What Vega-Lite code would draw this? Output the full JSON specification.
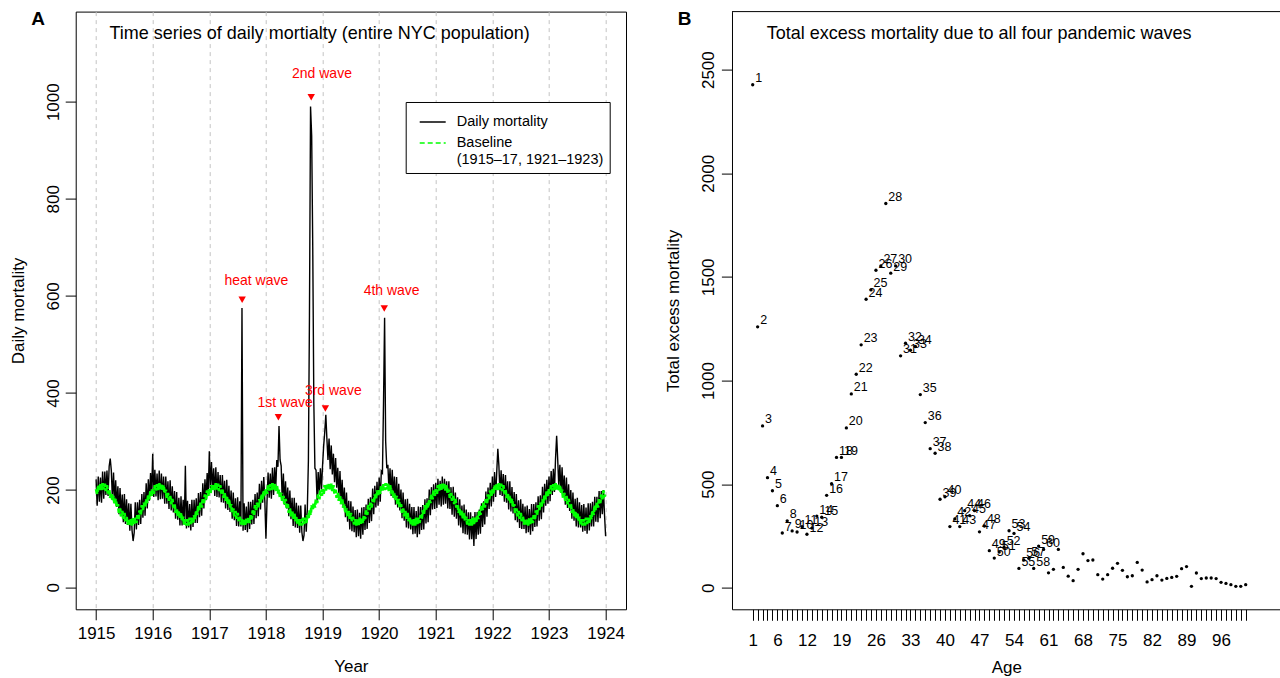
{
  "$schema": "https://vega.github.io/schema/vega-lite/v6.json",
  "autosize": {"type": "none"},
  "padding": {"left": 75.7, "top": 11.6, "right": 1204.3, "bottom": 666.4},
  "background": "white",
  "bounds": "flush",
  "spacing": 105.3,
  "config": {
    "font": "Liberation Sans",
    "view": {"stroke": "black", "strokeWidth": 1},
    "axis": {
      "labelColor": "black", "titleColor": "black", "tickColor": "black", "domainColor": "black",
      "labelFontSize": 17, "titleFontSize": 17, "titleFontWeight": "normal",
      "grid": false, "labelFlush": false, "labelOverlap": false, "tickWidth": 1, "domainWidth": 1
    }
  },
  "datasets": {
    "events": [
      {"event": "heat wave", "year": 1917.58, "value": 592, "labelYear": 1917.83, "labelValue": 630},
      {"event": "1st wave", "year": 1918.22, "value": 350, "labelYear": 1918.34, "labelValue": 379},
      {"event": "2nd wave", "year": 1918.80, "value": 1009, "labelYear": 1918.99, "labelValue": 1057},
      {"event": "3rd wave", "year": 1919.05, "value": 368, "labelYear": 1919.19, "labelValue": 405},
      {"event": "4th wave", "year": 1920.09, "value": 574, "labelYear": 1920.22, "labelValue": 611}
    ],
    "ages": [
      {"age":1,"excess":2427},{"age":2,"excess":1259},{"age":3,"excess":781},{"age":4,"excess":531},{"age":5,"excess":468},
      {"age":6,"excess":396},{"age":7,"excess":264},{"age":8,"excess":323},{"age":9,"excess":274},{"age":10,"excess":269},
      {"age":11,"excess":295},{"age":12,"excess":258},{"age":13,"excess":288},{"age":14,"excess":346},{"age":15,"excess":340},
      {"age":16,"excess":446},{"age":17,"excess":502},{"age":18,"excess":629},{"age":19,"excess":629},{"age":20,"excess":771},
      {"age":21,"excess":935},{"age":22,"excess":1030},{"age":23,"excess":1172},{"age":24,"excess":1392},{"age":25,"excess":1437},
      {"age":26,"excess":1532},{"age":27,"excess":1553},{"age":28,"excess":1854},{"age":29,"excess":1518},{"age":30,"excess":1553},
      {"age":31,"excess":1119},{"age":32,"excess":1180},{"age":33,"excess":1146},{"age":34,"excess":1164},{"age":35,"excess":932},
      {"age":36,"excess":797},{"age":37,"excess":671},{"age":38,"excess":649},{"age":39,"excess":427},{"age":40,"excess":439},
      {"age":41,"excess":295},{"age":42,"excess":332},{"age":43,"excess":295},{"age":44,"excess":372},{"age":45,"excess":348},
      {"age":46,"excess":372},{"age":47,"excess":270},{"age":48,"excess":298},{"age":49,"excess":179},{"age":50,"excess":143},
      {"age":51,"excess":172},{"age":52,"excess":195},{"age":53,"excess":275},{"age":54,"excess":262},{"age":55,"excess":93},
      {"age":56,"excess":134},{"age":57,"excess":142},{"age":58,"excess":93},{"age":59,"excess":201},{"age":60,"excess":185},
      {"age":61,"excess":72},{"age":62,"excess":89},{"age":63,"excess":185},{"age":64,"excess":98},{"age":65,"excess":56},
      {"age":66,"excess":34},{"age":67,"excess":89},{"age":68,"excess":164},{"age":69,"excess":131},{"age":70,"excess":134},
      {"age":71,"excess":63},{"age":72,"excess":42},{"age":73,"excess":63},{"age":74,"excess":94},{"age":75,"excess":118},
      {"age":76,"excess":84},{"age":77,"excess":53},{"age":78,"excess":58},{"age":79,"excess":122},{"age":80,"excess":85},
      {"age":81,"excess":28},{"age":82,"excess":39},{"age":83,"excess":58},{"age":84,"excess":37},{"age":85,"excess":45},
      {"age":86,"excess":50},{"age":87,"excess":55},{"age":88,"excess":92},{"age":89,"excess":102},{"age":90,"excess":7},
      {"age":91,"excess":71},{"age":92,"excess":44},{"age":93,"excess":47},{"age":94,"excess":47},{"age":95,"excess":44},
      {"age":96,"excess":26},{"age":97,"excess":21},{"age":98,"excess":15},{"age":99,"excess":7},{"age":100,"excess":7},
      {"age":101,"excess":15}
    ],
    "mort": [
      {"year":1915,"deaths":222,"base":202},{"year":1915.019,"deaths":168,"base":192},{"year":1915.038,"deaths":228,"base":210},{"year":1915.058,"deaths":176,"base":199},
      {"year":1915.077,"deaths":226,"base":212},{"year":1915.096,"deaths":174,"base":200},{"year":1915.115,"deaths":238,"base":214},{"year":1915.135,"deaths":182,"base":201},
      {"year":1915.154,"deaths":238,"base":213},{"year":1915.173,"deaths":190,"base":198},{"year":1915.192,"deaths":240,"base":210},{"year":1915.212,"deaths":188,"base":193},
      {"year":1915.231,"deaths":249,"base":201},{"year":1915.25,"deaths":265,"base":184},{"year":1915.269,"deaths":240,"base":194},{"year":1915.288,"deaths":182,"base":178},
      {"year":1915.308,"deaths":236,"base":188},{"year":1915.327,"deaths":173,"base":171},{"year":1915.346,"deaths":220,"base":182},{"year":1915.365,"deaths":165,"base":164},
      {"year":1915.385,"deaths":208,"base":171},{"year":1915.404,"deaths":150,"base":153},{"year":1915.423,"deaths":204,"base":162},{"year":1915.442,"deaths":146,"base":146},
      {"year":1915.462,"deaths":191,"base":157},{"year":1915.481,"deaths":134,"base":141},{"year":1915.5,"deaths":192,"base":153},{"year":1915.519,"deaths":130,"base":136},
      {"year":1915.538,"deaths":181,"base":145},{"year":1915.558,"deaths":128,"base":129},{"year":1915.577,"deaths":173,"base":140},{"year":1915.596,"deaths":116,"base":127},
      {"year":1915.615,"deaths":172,"base":140},{"year":1915.635,"deaths":117,"base":127},{"year":1915.654,"deaths":95,"base":143},{"year":1915.673,"deaths":112,"base":130},
      {"year":1915.692,"deaths":175,"base":143},{"year":1915.712,"deaths":119,"base":132},{"year":1915.731,"deaths":175,"base":148},{"year":1915.75,"deaths":128,"base":140},
      {"year":1915.769,"deaths":180,"base":158},{"year":1915.788,"deaths":130,"base":149},{"year":1915.808,"deaths":192,"base":169},{"year":1915.827,"deaths":143,"base":159},
      {"year":1915.846,"deaths":196,"base":174},{"year":1915.865,"deaths":147,"base":164},{"year":1915.885,"deaths":214,"base":181},{"year":1915.904,"deaths":162,"base":173},
      {"year":1915.923,"deaths":222,"base":191},{"year":1915.942,"deaths":178,"base":181},{"year":1915.962,"deaths":235,"base":199},{"year":1915.981,"deaths":191,"base":188},

      {"year":1916,"deaths":275,"base":202},{"year":1916.019,"deaths":186,"base":192},{"year":1916.038,"deaths":242,"base":210},{"year":1916.058,"deaths":187,"base":199},
      {"year":1916.077,"deaths":234,"base":212},{"year":1916.096,"deaths":179,"base":200},{"year":1916.115,"deaths":240,"base":214},{"year":1916.135,"deaths":181,"base":201},
      {"year":1916.154,"deaths":234,"base":213},{"year":1916.173,"deaths":182,"base":198},{"year":1916.192,"deaths":228,"base":210},{"year":1916.212,"deaths":172,"base":193},
      {"year":1916.231,"deaths":228,"base":201},{"year":1916.25,"deaths":172,"base":184},{"year":1916.269,"deaths":218,"base":194},{"year":1916.288,"deaths":161,"base":178},
      {"year":1916.308,"deaths":220,"base":188},{"year":1916.327,"deaths":158,"base":171},{"year":1916.346,"deaths":208,"base":182},{"year":1916.365,"deaths":154,"base":164},
      {"year":1916.385,"deaths":198,"base":171},{"year":1916.404,"deaths":141,"base":153},{"year":1916.423,"deaths":196,"base":162},{"year":1916.442,"deaths":139,"base":146},
      {"year":1916.462,"deaths":184,"base":157},{"year":1916.481,"deaths":127,"base":141},{"year":1916.5,"deaths":187,"base":153},{"year":1916.519,"deaths":127,"base":136},
      {"year":1916.538,"deaths":180,"base":145},{"year":1916.558,"deaths":129,"base":129},{"year":1916.577,"deaths":250,"base":140},{"year":1916.596,"deaths":121,"base":127},
      {"year":1916.615,"deaths":178,"base":140},{"year":1916.635,"deaths":123,"base":127},{"year":1916.654,"deaths":171,"base":143},{"year":1916.673,"deaths":117,"base":130},
      {"year":1916.692,"deaths":180,"base":143},{"year":1916.712,"deaths":124,"base":132},{"year":1916.731,"deaths":180,"base":148},{"year":1916.75,"deaths":132,"base":140},
      {"year":1916.769,"deaths":183,"base":158},{"year":1916.788,"deaths":132,"base":149},{"year":1916.808,"deaths":194,"base":169},{"year":1916.827,"deaths":144,"base":159},
      {"year":1916.846,"deaths":196,"base":174},{"year":1916.865,"deaths":147,"base":164},{"year":1916.885,"deaths":214,"base":181},{"year":1916.904,"deaths":162,"base":173},
      {"year":1916.923,"deaths":222,"base":191},{"year":1916.942,"deaths":179,"base":181},{"year":1916.962,"deaths":235,"base":199},{"year":1916.981,"deaths":190,"base":188},

      {"year":1917,"deaths":280,"base":202},{"year":1917.019,"deaths":204,"base":192},{"year":1917.038,"deaths":258,"base":210},{"year":1917.058,"deaths":200,"base":199},
      {"year":1917.077,"deaths":245,"base":212},{"year":1917.096,"deaths":188,"base":200},{"year":1917.115,"deaths":247,"base":214},{"year":1917.135,"deaths":186,"base":201},
      {"year":1917.154,"deaths":237,"base":213},{"year":1917.173,"deaths":185,"base":198},{"year":1917.192,"deaths":231,"base":210},{"year":1917.212,"deaths":175,"base":193},
      {"year":1917.231,"deaths":231,"base":201},{"year":1917.25,"deaths":174,"base":184},{"year":1917.269,"deaths":219,"base":194},{"year":1917.288,"deaths":162,"base":178},
      {"year":1917.308,"deaths":221,"base":188},{"year":1917.327,"deaths":159,"base":171},{"year":1917.346,"deaths":209,"base":182},{"year":1917.365,"deaths":155,"base":164},
      {"year":1917.385,"deaths":199,"base":171},{"year":1917.404,"deaths":141,"base":153},{"year":1917.423,"deaths":195,"base":162},{"year":1917.442,"deaths":138,"base":146},
      {"year":1917.462,"deaths":183,"base":157},{"year":1917.481,"deaths":126,"base":141},{"year":1917.5,"deaths":185,"base":153},{"year":1917.519,"deaths":125,"base":136},
      {"year":1917.538,"deaths":177,"base":145},{"year":1917.558,"deaths":125,"base":129},{"year":1917.577,"deaths":575,"base":140},{"year":1917.596,"deaths":116,"base":127},
      {"year":1917.615,"deaths":173,"base":140},{"year":1917.635,"deaths":118,"base":127},{"year":1917.654,"deaths":166,"base":143},{"year":1917.673,"deaths":113,"base":130},
      {"year":1917.692,"deaths":176,"base":143},{"year":1917.712,"deaths":120,"base":132},{"year":1917.731,"deaths":176,"base":148},{"year":1917.75,"deaths":129,"base":140},
      {"year":1917.769,"deaths":180,"base":158},{"year":1917.788,"deaths":130,"base":149},{"year":1917.808,"deaths":192,"base":169},{"year":1917.827,"deaths":142,"base":159},
      {"year":1917.846,"deaths":195,"base":174},{"year":1917.865,"deaths":146,"base":164},{"year":1917.885,"deaths":213,"base":181},{"year":1917.904,"deaths":160,"base":173},
      {"year":1917.923,"deaths":219,"base":191},{"year":1917.942,"deaths":174,"base":181},{"year":1917.962,"deaths":227,"base":199},{"year":1917.981,"deaths":176,"base":188},

      {"year":1918,"deaths":100,"base":202},{"year":1918.019,"deaths":176,"base":192},{"year":1918.038,"deaths":236,"base":210},{"year":1918.058,"deaths":184,"base":199},
      {"year":1918.077,"deaths":234,"base":212},{"year":1918.096,"deaths":182,"base":200},{"year":1918.115,"deaths":246,"base":214},{"year":1918.135,"deaths":190,"base":201},
      {"year":1918.154,"deaths":247,"base":213},{"year":1918.173,"deaths":202,"base":198},{"year":1918.192,"deaths":262,"base":210},{"year":1918.212,"deaths":248,"base":193},
      {"year":1918.231,"deaths":332,"base":201},{"year":1918.25,"deaths":262,"base":184},{"year":1918.269,"deaths":250,"base":194},{"year":1918.288,"deaths":179,"base":178},
      {"year":1918.308,"deaths":234,"base":188},{"year":1918.327,"deaths":170,"base":171},{"year":1918.346,"deaths":218,"base":182},{"year":1918.365,"deaths":162,"base":164},
      {"year":1918.385,"deaths":205,"base":171},{"year":1918.404,"deaths":146,"base":153},{"year":1918.423,"deaths":199,"base":162},{"year":1918.442,"deaths":140,"base":146},
      {"year":1918.462,"deaths":184,"base":157},{"year":1918.481,"deaths":126,"base":141},{"year":1918.5,"deaths":184,"base":153},{"year":1918.519,"deaths":123,"base":136},
      {"year":1918.538,"deaths":174,"base":145},{"year":1918.558,"deaths":122,"base":129},{"year":1918.577,"deaths":168,"base":140},{"year":1918.596,"deaths":112,"base":127},
      {"year":1918.615,"deaths":168,"base":140},{"year":1918.635,"deaths":113,"base":127},{"year":1918.654,"deaths":95,"base":143},{"year":1918.673,"deaths":107,"base":130},
      {"year":1918.692,"deaths":170,"base":143},{"year":1918.712,"deaths":114,"base":132},{"year":1918.731,"deaths":160,"base":148},{"year":1918.75,"deaths":260,"base":140},
      {"year":1918.769,"deaths":560,"base":158},{"year":1918.788,"deaths":990,"base":149},{"year":1918.808,"deaths":930,"base":169},{"year":1918.827,"deaths":700,"base":159},
      {"year":1918.846,"deaths":380,"base":174},{"year":1918.865,"deaths":245,"base":164},{"year":1918.885,"deaths":241,"base":181},{"year":1918.904,"deaths":178,"base":173},
      {"year":1918.923,"deaths":237,"base":191},{"year":1918.942,"deaths":192,"base":181},{"year":1918.962,"deaths":245,"base":199},{"year":1918.981,"deaths":201,"base":188},

      {"year":1919,"deaths":250,"base":202},{"year":1919.019,"deaths":290,"base":192},{"year":1919.038,"deaths":318,"base":210},{"year":1919.058,"deaths":355,"base":199},
      {"year":1919.077,"deaths":305,"base":212},{"year":1919.096,"deaths":262,"base":200},{"year":1919.115,"deaths":306,"base":214},{"year":1919.135,"deaths":243,"base":201},
      {"year":1919.154,"deaths":292,"base":213},{"year":1919.173,"deaths":232,"base":198},{"year":1919.192,"deaths":275,"base":210},{"year":1919.212,"deaths":216,"base":193},
      {"year":1919.231,"deaths":266,"base":201},{"year":1919.25,"deaths":205,"base":184},{"year":1919.269,"deaths":246,"base":194},{"year":1919.288,"deaths":184,"base":178},
      {"year":1919.308,"deaths":239,"base":188},{"year":1919.327,"deaths":174,"base":171},{"year":1919.346,"deaths":221,"base":182},{"year":1919.365,"deaths":164,"base":164},
      {"year":1919.385,"deaths":205,"base":171},{"year":1919.404,"deaths":144,"base":153},{"year":1919.423,"deaths":195,"base":162},{"year":1919.442,"deaths":135,"base":146},
      {"year":1919.462,"deaths":178,"base":157},{"year":1919.481,"deaths":119,"base":141},{"year":1919.5,"deaths":177,"base":153},{"year":1919.519,"deaths":115,"base":136},
      {"year":1919.538,"deaths":166,"base":145},{"year":1919.558,"deaths":113,"base":129},{"year":1919.577,"deaths":159,"base":140},{"year":1919.596,"deaths":103,"base":127},
      {"year":1919.615,"deaths":160,"base":140},{"year":1919.635,"deaths":105,"base":127},{"year":1919.654,"deaths":153,"base":143},{"year":1919.673,"deaths":100,"base":130},
      {"year":1919.692,"deaths":164,"base":143},{"year":1919.712,"deaths":108,"base":132},{"year":1919.731,"deaths":165,"base":148},{"year":1919.75,"deaths":118,"base":140},
      {"year":1919.769,"deaths":170,"base":158},{"year":1919.788,"deaths":120,"base":149},{"year":1919.808,"deaths":182,"base":169},{"year":1919.827,"deaths":132,"base":159},
      {"year":1919.846,"deaths":185,"base":174},{"year":1919.865,"deaths":136,"base":164},{"year":1919.885,"deaths":203,"base":181},{"year":1919.904,"deaths":150,"base":173},
      {"year":1919.923,"deaths":209,"base":191},{"year":1919.942,"deaths":164,"base":181},{"year":1919.962,"deaths":217,"base":199},{"year":1919.981,"deaths":168,"base":188},

      {"year":1920,"deaths":226,"base":202},{"year":1920.019,"deaths":176,"base":192},{"year":1920.038,"deaths":239,"base":210},{"year":1920.058,"deaths":235,"base":199},
      {"year":1920.077,"deaths":380,"base":212},{"year":1920.096,"deaths":555,"base":200},{"year":1920.115,"deaths":300,"base":214},{"year":1920.135,"deaths":245,"base":201},
      {"year":1920.154,"deaths":252,"base":213},{"year":1920.173,"deaths":200,"base":198},{"year":1920.192,"deaths":245,"base":210},{"year":1920.212,"deaths":188,"base":193},
      {"year":1920.231,"deaths":242,"base":201},{"year":1920.25,"deaths":184,"base":184},{"year":1920.269,"deaths":228,"base":194},{"year":1920.288,"deaths":170,"base":178},
      {"year":1920.308,"deaths":227,"base":188},{"year":1920.327,"deaths":164,"base":171},{"year":1920.346,"deaths":213,"base":182},{"year":1920.365,"deaths":158,"base":164},
      {"year":1920.385,"deaths":201,"base":171},{"year":1920.404,"deaths":142,"base":153},{"year":1920.423,"deaths":195,"base":162},{"year":1920.442,"deaths":137,"base":146},
      {"year":1920.462,"deaths":181,"base":157},{"year":1920.481,"deaths":123,"base":141},{"year":1920.5,"deaths":182,"base":153},{"year":1920.519,"deaths":121,"base":136},
      {"year":1920.538,"deaths":172,"base":145},{"year":1920.558,"deaths":119,"base":129},{"year":1920.577,"deaths":165,"base":140},{"year":1920.596,"deaths":109,"base":127},
      {"year":1920.615,"deaths":165,"base":140},{"year":1920.635,"deaths":110,"base":127},{"year":1920.654,"deaths":157,"base":143},{"year":1920.673,"deaths":103,"base":130},
      {"year":1920.692,"deaths":166,"base":143},{"year":1920.712,"deaths":109,"base":132},{"year":1920.731,"deaths":165,"base":148},{"year":1920.75,"deaths":118,"base":140},
      {"year":1920.769,"deaths":169,"base":158},{"year":1920.788,"deaths":119,"base":149},{"year":1920.808,"deaths":181,"base":169},{"year":1920.827,"deaths":131,"base":159},
      {"year":1920.846,"deaths":183,"base":174},{"year":1920.865,"deaths":134,"base":164},{"year":1920.885,"deaths":201,"base":181},{"year":1920.904,"deaths":148,"base":173},
      {"year":1920.923,"deaths":206,"base":191},{"year":1920.942,"deaths":160,"base":181},{"year":1920.962,"deaths":212,"base":199},{"year":1920.981,"deaths":161,"base":188},

      {"year":1921,"deaths":215,"base":202},{"year":1921.019,"deaths":163,"base":192},{"year":1921.038,"deaths":223,"base":210},{"year":1921.058,"deaths":170,"base":199},
      {"year":1921.077,"deaths":219,"base":212},{"year":1921.096,"deaths":166,"base":200},{"year":1921.115,"deaths":228,"base":214},{"year":1921.135,"deaths":170,"base":201},
      {"year":1921.154,"deaths":223,"base":213},{"year":1921.173,"deaths":172,"base":198},{"year":1921.192,"deaths":218,"base":210},{"year":1921.212,"deaths":162,"base":193},
      {"year":1921.231,"deaths":218,"base":201},{"year":1921.25,"deaths":161,"base":184},{"year":1921.269,"deaths":206,"base":194},{"year":1921.288,"deaths":149,"base":178},
      {"year":1921.308,"deaths":207,"base":188},{"year":1921.327,"deaths":145,"base":171},{"year":1921.346,"deaths":195,"base":182},{"year":1921.365,"deaths":141,"base":164},
      {"year":1921.385,"deaths":185,"base":171},{"year":1921.404,"deaths":127,"base":153},{"year":1921.423,"deaths":181,"base":162},{"year":1921.442,"deaths":123,"base":146},
      {"year":1921.462,"deaths":168,"base":157},{"year":1921.481,"deaths":111,"base":141},{"year":1921.5,"deaths":170,"base":153},{"year":1921.519,"deaths":109,"base":136},
      {"year":1921.538,"deaths":160,"base":145},{"year":1921.558,"deaths":108,"base":129},{"year":1921.577,"deaths":154,"base":140},{"year":1921.596,"deaths":98,"base":127},
      {"year":1921.615,"deaths":154,"base":140},{"year":1921.635,"deaths":99,"base":127},{"year":1921.654,"deaths":146,"base":143},{"year":1921.673,"deaths":85,"base":130},
      {"year":1921.692,"deaths":155,"base":143},{"year":1921.712,"deaths":99,"base":132},{"year":1921.731,"deaths":155,"base":148},{"year":1921.75,"deaths":108,"base":140},
      {"year":1921.769,"deaths":160,"base":158},{"year":1921.788,"deaths":110,"base":149},{"year":1921.808,"deaths":173,"base":169},{"year":1921.827,"deaths":124,"base":159},
      {"year":1921.846,"deaths":177,"base":174},{"year":1921.865,"deaths":129,"base":164},{"year":1921.885,"deaths":197,"base":181},{"year":1921.904,"deaths":145,"base":173},
      {"year":1921.923,"deaths":205,"base":191},{"year":1921.942,"deaths":161,"base":181},{"year":1921.962,"deaths":215,"base":199},{"year":1921.981,"deaths":166,"base":188},

      {"year":1922,"deaths":228,"base":202},{"year":1922.019,"deaths":176,"base":192},{"year":1922.038,"deaths":237,"base":210},{"year":1922.058,"deaths":186,"base":199},
      {"year":1922.077,"deaths":238,"base":212},{"year":1922.096,"deaths":285,"base":200},{"year":1922.115,"deaths":250,"base":214},{"year":1922.135,"deaths":190,"base":201},
      {"year":1922.154,"deaths":241,"base":213},{"year":1922.173,"deaths":188,"base":198},{"year":1922.192,"deaths":233,"base":210},{"year":1922.212,"deaths":176,"base":193},
      {"year":1922.231,"deaths":231,"base":201},{"year":1922.25,"deaths":174,"base":184},{"year":1922.269,"deaths":218,"base":194},{"year":1922.288,"deaths":160,"base":178},
      {"year":1922.308,"deaths":218,"base":188},{"year":1922.327,"deaths":156,"base":171},{"year":1922.346,"deaths":206,"base":182},{"year":1922.365,"deaths":152,"base":164},
      {"year":1922.385,"deaths":196,"base":171},{"year":1922.404,"deaths":138,"base":153},{"year":1922.423,"deaths":192,"base":162},{"year":1922.442,"deaths":134,"base":146},
      {"year":1922.462,"deaths":179,"base":157},{"year":1922.481,"deaths":122,"base":141},{"year":1922.5,"deaths":181,"base":153},{"year":1922.519,"deaths":120,"base":136},
      {"year":1922.538,"deaths":172,"base":145},{"year":1922.558,"deaths":120,"base":129},{"year":1922.577,"deaths":166,"base":140},{"year":1922.596,"deaths":111,"base":127},
      {"year":1922.615,"deaths":168,"base":140},{"year":1922.635,"deaths":113,"base":127},{"year":1922.654,"deaths":161,"base":143},{"year":1922.673,"deaths":108,"base":130},
      {"year":1922.692,"deaths":171,"base":143},{"year":1922.712,"deaths":115,"base":132},{"year":1922.731,"deaths":171,"base":148},{"year":1922.75,"deaths":124,"base":140},
      {"year":1922.769,"deaths":175,"base":158},{"year":1922.788,"deaths":125,"base":149},{"year":1922.808,"deaths":187,"base":169},{"year":1922.827,"deaths":137,"base":159},
      {"year":1922.846,"deaths":189,"base":174},{"year":1922.865,"deaths":140,"base":164},{"year":1922.885,"deaths":207,"base":181},{"year":1922.904,"deaths":154,"base":173},
      {"year":1922.923,"deaths":213,"base":191},{"year":1922.942,"deaths":168,"base":181},{"year":1922.962,"deaths":221,"base":199},{"year":1922.981,"deaths":172,"base":188},

      {"year":1923,"deaths":228,"base":202},{"year":1923.019,"deaths":177,"base":192},{"year":1923.038,"deaths":239,"base":210},{"year":1923.058,"deaths":190,"base":199},
      {"year":1923.077,"deaths":244,"base":212},{"year":1923.096,"deaths":196,"base":200},{"year":1923.115,"deaths":264,"base":214},{"year":1923.135,"deaths":312,"base":201},
      {"year":1923.154,"deaths":262,"base":213},{"year":1923.173,"deaths":208,"base":198},{"year":1923.192,"deaths":252,"base":210},{"year":1923.212,"deaths":194,"base":193},
      {"year":1923.231,"deaths":247,"base":201},{"year":1923.25,"deaths":188,"base":184},{"year":1923.269,"deaths":230,"base":194},{"year":1923.288,"deaths":170,"base":178},
      {"year":1923.308,"deaths":226,"base":188},{"year":1923.327,"deaths":163,"base":171},{"year":1923.346,"deaths":212,"base":182},{"year":1923.365,"deaths":157,"base":164},
      {"year":1923.385,"deaths":200,"base":171},{"year":1923.404,"deaths":141,"base":153},{"year":1923.423,"deaths":195,"base":162},{"year":1923.442,"deaths":137,"base":146},
      {"year":1923.462,"deaths":182,"base":157},{"year":1923.481,"deaths":125,"base":141},{"year":1923.5,"deaths":184,"base":153},{"year":1923.519,"deaths":123,"base":136},
      {"year":1923.538,"deaths":175,"base":145},{"year":1923.558,"deaths":123,"base":129},{"year":1923.577,"deaths":169,"base":140},{"year":1923.596,"deaths":114,"base":127},
      {"year":1923.615,"deaths":171,"base":140},{"year":1923.635,"deaths":116,"base":127},{"year":1923.654,"deaths":164,"base":143},{"year":1923.673,"deaths":110,"base":130},
      {"year":1923.692,"deaths":173,"base":143},{"year":1923.712,"deaths":117,"base":132},{"year":1923.731,"deaths":173,"base":148},{"year":1923.75,"deaths":125,"base":140},
      {"year":1923.769,"deaths":176,"base":158},{"year":1923.788,"deaths":125,"base":149},{"year":1923.808,"deaths":186,"base":169},{"year":1923.827,"deaths":135,"base":159},
      {"year":1923.846,"deaths":186,"base":174},{"year":1923.865,"deaths":134,"base":164},{"year":1923.885,"deaths":198,"base":181},{"year":1923.904,"deaths":142,"base":173},
      {"year":1923.923,"deaths":198,"base":191},{"year":1923.942,"deaths":150,"base":181},{"year":1923.962,"deaths":200,"base":199},{"year":1923.981,"deaths":148,"base":188},
      {"year":1924,"deaths":105,"base":190}
    ]
  },
  "hconcat": [
    {
      "width": 550.3,
      "height": 597.7,
      "layer": [
        {
          "data": {"name": "mort"},
          "mark": {"type": "line", "strokeWidth": 1.4, "clip": true},
          "encoding": {
            "x": {
              "field": "year", "type": "quantitative",
              "scale": {"domain": [1914.64, 1924.36], "nice": false, "zero": false},
              "axis": {
                "title": "Year", "values": [1915, 1916, 1917, 1918, 1919, 1920, 1921, 1922, 1923, 1924],
                "format": "d", "tickSize": 10.5, "labelPadding": 6, "titlePadding": 17,
                "domain": false, "grid": true, "gridDash": [4, 4], "gridColor": "#c4c4c4", "gridWidth": 1
              }
            },
            "y": {
              "field": "deaths", "type": "quantitative",
              "scale": {"domain": [-45.6, 1185.6], "nice": false, "zero": false},
              "axis": {
                "title": "Daily mortality", "values": [0, 200, 400, 600, 800, 1000], "format": "d",
                "tickSize": 10.5, "labelAngle": -90, "labelAlign": "center", "labelBaseline": "bottom",
                "labelPadding": 3, "titlePadding": 17, "domain": false
              }
            },
            "color": {
              "datum": "Daily mortality", "type": "nominal",
              "scale": {"domain": ["Daily mortality", "Baseline"], "range": ["black", "#00ff00"]},
              "legend": {
                "orient": "none", "legendX": 330, "legendY": 90.4, "title": null,
                "symbolType": "stroke", "symbolSize": 676, "symbolStrokeWidth": 1.3, "symbolOffset": 7,
                "labelFontSize": 14.5, "labelColor": "black", "labelOffset": 10,
                "padding": 6, "rowPadding": -3, "strokeColor": "black", "fillColor": "white",
                "labelExpr": "datum.label === 'Baseline' ? ['Baseline', '(1915–17, 1921–1923)'] : datum.label",
                "encode": {
                  "symbols": {"update": {"strokeDash": {"signal": "datum.value === 'Baseline' ? [5, 3] : [1, 0]"}}},
                  "labels": {"update": {"lineHeight": {"value": 16.6}}}
                }
              }
            }
          }
        },
        {
          "data": {"name": "mort"},
          "mark": {"type": "line", "strokeWidth": 2.8, "strokeDash": [5, 2], "clip": true},
          "encoding": {
            "x": {"field": "year", "type": "quantitative"},
            "y": {"field": "base", "type": "quantitative"},
            "color": {"datum": "Baseline", "type": "nominal"}
          }
        },
        {
          "data": {"name": "events"},
          "mark": {"type": "point", "shape": "triangle-down", "filled": true, "color": "#ff0000", "size": 55, "opacity": 1},
          "encoding": {
            "x": {"field": "year", "type": "quantitative"},
            "y": {"field": "value", "type": "quantitative"}
          }
        },
        {
          "data": {"name": "events"},
          "mark": {"type": "text", "color": "#ff0000", "fontSize": 14, "align": "center", "baseline": "middle"},
          "encoding": {
            "x": {"field": "labelYear", "type": "quantitative"},
            "y": {"field": "labelValue", "type": "quantitative"},
            "text": {"field": "event", "type": "nominal"}
          }
        },
        {
          "data": {"values": [{}]},
          "mark": {"type": "text", "fontSize": 18, "align": "left", "baseline": "middle", "color": "black"},
          "encoding": {
            "x": {"datum": 1915.237},
            "y": {"datum": 1140},
            "text": {"value": "Time series of daily mortialty (entire NYC population)"}
          }
        },
        {
          "data": {"values": [{}]},
          "mark": {"type": "text", "fontSize": 19, "fontWeight": "bold", "align": "center", "baseline": "middle", "color": "black"},
          "encoding": {
            "x": {"datum": 1913.975},
            "y": {"datum": 1171},
            "text": {"value": "A"}
          }
        }
      ]
    },
    {
      "width": 548.7,
      "height": 597.7,
      "view": {"stroke": null},
      "layer": [
        {
          "data": {"name": "ages"},
          "mark": {"type": "circle", "size": 11, "color": "black", "opacity": 1},
          "encoding": {
            "x": {
              "field": "age", "type": "quantitative",
              "scale": {"domain": [-3.2, 108.1], "nice": false, "zero": false},
              "axis": {
                "title": "Age", "tickCount": 300, "format": "d",
                "values": [1,2,3,4,5,6,7,8,9,10,11,12,13,14,15,16,17,18,19,20,21,22,23,24,25,26,27,28,29,30,31,32,33,34,35,36,37,38,39,40,41,42,43,44,45,46,47,48,49,50,51,52,53,54,55,56,57,58,59,60,61,62,63,64,65,66,67,68,69,70,71,72,73,74,75,76,77,78,79,80,81,82,83,84,85,86,87,88,89,90,91,92,93,94,95,96,97,98,99,100,101],
                "labelExpr": "indexof([1, 6, 12, 19, 26, 33, 40, 47, 54, 61, 68, 75, 82, 89, 96], datum.value) >= 0 ? datum.label : ''",
                "tickSize": 11, "labelPadding": 12, "titlePadding": 11, "domain": true
              }
            },
            "y": {
              "field": "excess", "type": "quantitative",
              "scale": {"domain": [-104, 2780], "nice": false, "zero": false},
              "axis": {
                "title": "Total excess mortality", "values": [0, 500, 1000, 1500, 2000, 2500], "format": "d",
                "tickSize": 10.6, "labelAngle": -90, "labelAlign": "center", "labelBaseline": "bottom",
                "labelPadding": 4.3, "titlePadding": 17, "domain": true
              }
            }
          }
        },
        {
          "data": {"name": "ages"},
          "transform": [{"filter": "datum.age <= 60"}],
          "mark": {"type": "text", "fontSize": 12.5, "align": "left", "baseline": "alphabetic", "dx": 2.5, "dy": -2.5, "color": "black"},
          "encoding": {
            "x": {"field": "age", "type": "quantitative"},
            "y": {"field": "excess", "type": "quantitative"},
            "text": {"field": "age", "type": "nominal"}
          }
        },
        {
          "data": {"values": [{}]},
          "mark": {"type": "rule", "color": "black", "strokeWidth": 1},
          "encoding": {"y": {"datum": 2780}}
        },
        {
          "data": {"values": [{}]},
          "mark": {"type": "text", "fontSize": 18, "align": "left", "baseline": "middle", "color": "black"},
          "encoding": {
            "x": {"datum": 3.84},
            "y": {"datum": 2671},
            "text": {"value": "Total excess mortality due to all four pandemic waves"}
          }
        },
        {
          "data": {"values": [{}]},
          "mark": {"type": "text", "fontSize": 19, "fontWeight": "bold", "align": "center", "baseline": "middle", "color": "black"},
          "encoding": {
            "x": {"datum": -12.8},
            "y": {"datum": 2743},
            "text": {"value": "B"}
          }
        }
      ]
    }
  ]
}
